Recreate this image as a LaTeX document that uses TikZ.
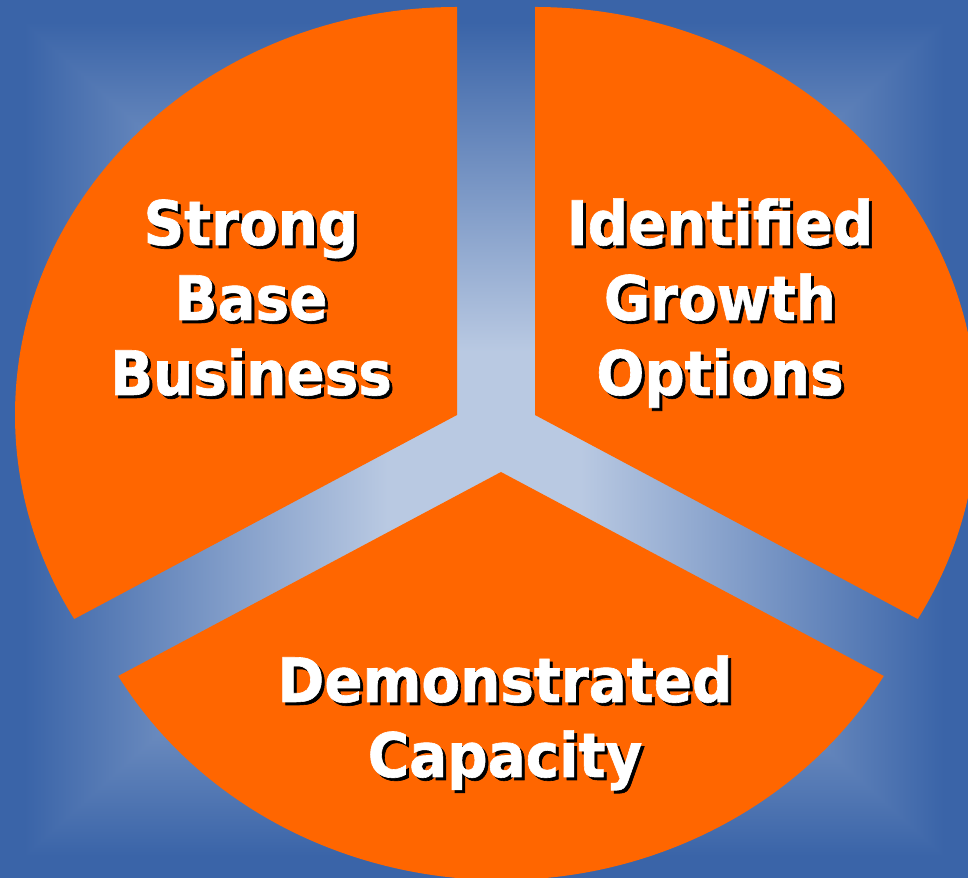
\documentclass[tikz,border=0pt]{standalone}
\usepackage{fontspec}
\newfontfamily\piefont{DejaVu Sans}[FakeStretch=0.92, FakeBold=1]
\definecolor{pieorange}{RGB}{255,102,0}

% light in the middle, blue towards the four sides
\pgfdeclarefunctionalshading{rectglow}{\pgfpointorigin}{\pgfpoint{100bp}{100bp}}{}{
  50 sub abs 25 div exch 50 sub abs 25 div
  2 copy lt {exch} if pop
  0.2 sub 0.75 div
  dup 0 lt {pop 0} if
  dup 1 gt {pop 1} if
  dup -0.498 mul 0.725 add
  exch dup -0.396 mul 0.788 add
  exch -0.227 mul 0.886 add
}

\begin{document}
\begin{tikzpicture}[x=0.75pt, y=0.75pt,
    slice/.style = {fill=pieorange},
    slicelabel/.style = {font=\piefont\bfseries\fontsize{46}{56.25}\selectfont, align=center, anchor=base, text=white},
    slicedrop/.style = {slicelabel, text=black, xshift=2.25pt, yshift=-2.25pt}]
    \useasboundingbox (0,0) rectangle (968,878);
    \shade[shading=rectglow] (0,0) rectangle (968,878);

    \begin{scope}
        \clip (0,0) rectangle (968,878);
        \coordinate (o1) at (457,463);
        \coordinate (o2) at (535,463);
        \coordinate (o3) at (501,406);
        \fill[slice] (o1) -- ++(90:331.5pt and 306pt) arc[start angle=90, end angle=210, x radius=331.5pt, y radius=306pt] -- cycle;
        \fill[slice] (o2) -- ++(-30:331.5pt and 306pt) arc[start angle=-30, end angle=90, x radius=331.5pt, y radius=306pt] -- cycle;
        \fill[slice] (o3) -- ++(210:331.5pt and 306pt) arc[start angle=210, end angle=330, x radius=331.5pt, y radius=306pt] -- cycle;
    \end{scope}

    % labels with a drop shadow (anchored on the last line)
    \node[slicedrop] (base-sh) at (251,483) {Strong\\Base\\Business};
    \node[slicelabel] (base) at (251,483) {Strong\\Base\\Business};
    \node[slicedrop] (growth-sh) at (720,483) {Identified\\Growth\\Options};
    \node[slicelabel] (growth) at (720,483) {Identified\\Growth\\Options};
    \node[slicedrop] (capacity-sh) at (505,101) {Demonstrated\\Capacity};
    \node[slicelabel] (capacity) at (505,101) {Demonstrated\\Capacity};
\end{tikzpicture}
\end{document}
